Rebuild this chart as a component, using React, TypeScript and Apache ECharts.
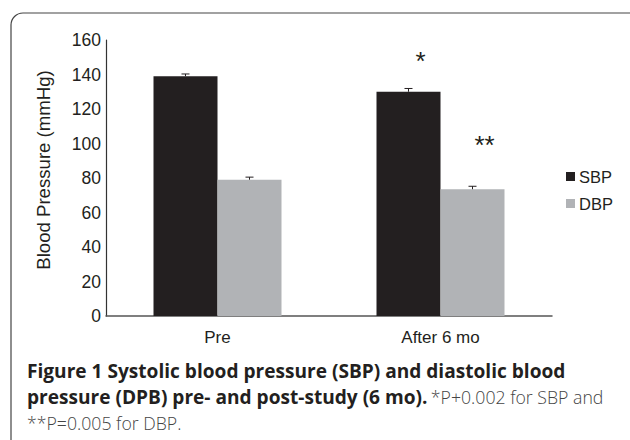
import React, { useEffect, useRef } from "react";
import * as echarts from "echarts";

const categories = ["Pre", "After 6 mo"];
const sbpValues = [139, 130];
const dbpValues = [79, 73.5];
const sbpErrors = [1.3, 1.9];
const dbpErrors = [1.5, 1.7];
const sbpMarks = ["", "*"];
const dbpMarks = ["", "**"];
const yTicks = { min: 0, max: 160, interval: 20 };

const captionLines = [
  "{b|Figure 1 Systolic blood pressure (SBP) and diastolic blood}",
  "{b|pressure (DPB) pre- and post-study (6 mo).} {n|*P+0.002 for SBP and}",
  "{n|**P=0.005 for DBP.}",
];

const BAR_GAP = 0.426;

export default function App() {
  const ref = useRef<HTMLDivElement>(null);
  useEffect(() => {
    if (!ref.current) return;
    const chart = echarts.init(ref.current, null, { renderer: "svg" });
    const font = "'Liberation Sans', Arial, sans-serif";
    const txt = "#231f20";

    const errData: number[][] = [];
    sbpValues.forEach((v, i) => errData.push([i, v, sbpErrors[i], 0]));
    dbpValues.forEach((v, i) => errData.push([i, v, dbpErrors[i], 1]));

    const mkData = (vals: number[], marks: string[], dist: number) =>
      vals.map((v, i) =>
        marks[i]
          ? {
              value: v,
              label: {
                show: true,
                formatter: marks[i],
                position: "top",
                distance: dist,
                offset: [12, 0],
                fontSize: 26,
                color: txt,
                fontFamily: font,
              },
            }
          : v
      );

    chart.setOption({
      animation: false,
      textStyle: { fontFamily: font },
      grid: { left: 106, right: 78, top: 40, bottom: 124 },
      legend: {
        orient: "vertical",
        left: 561,
        top: 163,
        itemWidth: 9,
        itemHeight: 9,
        itemGap: 10,
        icon: "rect",
        data: ["SBP", "DBP"],
        textStyle: { fontSize: 16.5, color: txt, fontFamily: font, padding: [0, 0, 0, -1] },
      },
      xAxis: {
        type: "category",
        data: categories,
        axisLine: { lineStyle: { color: "#555", width: 1.5 } },
        axisTick: { show: false },
        axisLabel: { fontSize: 17, color: txt, margin: 13 },
      },
      yAxis: {
        type: "value",
        min: yTicks.min,
        max: yTicks.max,
        interval: yTicks.interval,
        name: "Blood Pressure (mmHg)",
        nameLocation: "middle",
        nameGap: 53,
        nameTextStyle: { fontSize: 18.6, color: txt, padding: [0, 0, 0, 16] },
        axisLine: { show: true, lineStyle: { color: "#333", width: 1.2 } },
        axisTick: { show: false },
        splitLine: { show: false },
        axisLabel: { fontSize: 17.5, color: txt, margin: 5 },
      },
      series: [
        {
          name: "SBP",
          type: "bar",
          data: mkData(sbpValues, sbpMarks, 18),
          itemStyle: { color: "#231f20" },
          barGap: "0%",
          barCategoryGap: BAR_GAP * 100 + "%",
        },
        {
          name: "DBP",
          type: "bar",
          data: mkData(dbpValues, dbpMarks, 31),
          itemStyle: { color: "#b1b3b6" },
        },
        {
          type: "custom",
          name: "err",
          data: errData,
          z: 10,
          renderItem: (params: any, api: any) => {
            const cat = api.value(0);
            const v = api.value(1);
            const e = api.value(2);
            const s = api.value(3);
            const bw = (api.size([1, 0])[0] * (1 - BAR_GAP)) / 2;
            const base = api.coord([cat, v]);
            const top = api.coord([cat, v + e]);
            const x = base[0] + (s === 0 ? -bw / 2 : bw / 2);
            const st = { stroke: "#231f20", lineWidth: 1 };
            return {
              type: "group",
              children: [
                { type: "line", shape: { x1: x, y1: base[1], x2: x, y2: top[1] }, style: st },
                { type: "line", shape: { x1: x - 4, y1: top[1], x2: x + 4, y2: top[1] }, style: st },
              ],
            };
          },
        },
      ],
      graphic: [
        {
          type: "rect",
          shape: { x: 11, y: 13, width: 660, height: 470, r: 12 },
          style: { fill: "none", stroke: "#444", lineWidth: 1.2 },
          silent: true,
        },
        ...captionLines.map((t, i) => ({
          type: "text",
          left: 27,
          top: 361 + i * 26.5,
          style: {
            text: t,
            fill: txt,
            rich: {
              b: { fontFamily: "'Open Sans', sans-serif", fontWeight: 700, fontSize: 19.1, fill: "#231f20" },
              n: { fontFamily: "'Open Sans', sans-serif", fontWeight: 300, fontSize: 17.7, fill: "#444" },
            },
          },
        })),
      ],
    });
    return () => chart.dispose();
  }, []);
  return (
    <div
      ref={ref}
      style={{ position: "fixed", left: 0, top: 0, width: 630, height: 440, background: "#fff" }}
    />
  );
}
